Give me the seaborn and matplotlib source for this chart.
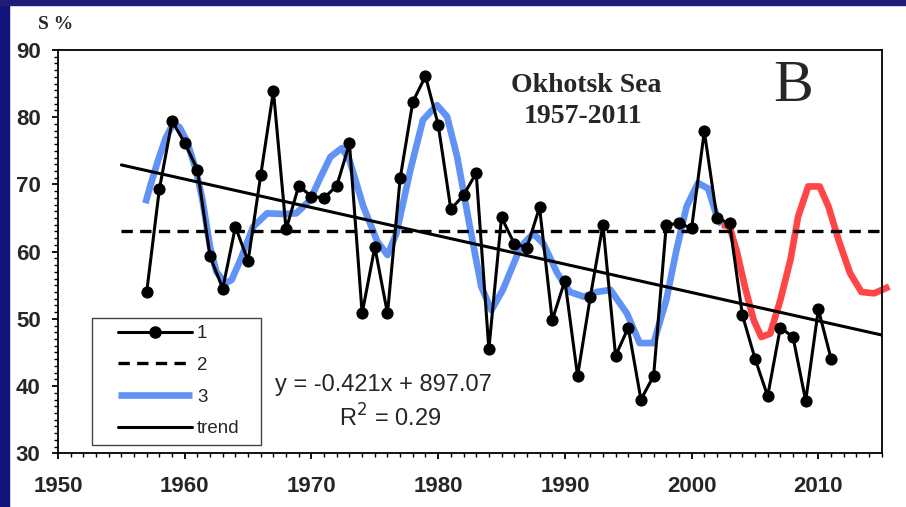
import numpy as np
import pandas as pd
import seaborn as sns
import matplotlib.pyplot as plt
from matplotlib.lines import Line2D
from matplotlib.patches import Rectangle
from matplotlib.ticker import MultipleLocator

# series 1: observed values, 1957-2011
years = list(range(1957, 2012))
values = [54.0, 69.3, 79.4, 76.2, 72.2, 59.3, 54.5, 63.7, 58.6, 71.4,
          83.9, 63.3, 69.8, 68.2, 68.0, 69.8, 76.1, 50.8, 60.7, 50.8,
          70.9, 82.3, 86.1, 78.9, 66.3, 68.4, 71.7, 45.5, 65.1, 61.2,
          60.6, 66.6, 49.8, 55.7, 41.5, 53.2, 64.0, 44.5, 48.7, 38.0,
          41.5, 64.0, 64.2, 63.5, 77.9, 65.0, 64.2, 50.6, 44.1, 38.5,
          48.7, 47.3, 37.8, 51.4, 44.1]

# series 2: mean level
mean_years = [1955, 2015]
mean_vals = [63.0, 63.0]

# series 3: smoothed curve (blue) and its extrapolation (red)
smooth_years = [1956.9, 1957.3, 1957.9, 1958.5, 1959.1, 1959.6, 1960.2, 1960.9,
                1961.4, 1962.0, 1962.5, 1963.2, 1963.7, 1964.4, 1965.4, 1966.5,
                1967.8, 1968.8, 1969.9, 1970.7, 1971.5, 1972.4, 1973.0, 1974.1,
                1975.2, 1976.0, 1976.7, 1977.8, 1978.8, 1979.9, 1980.7, 1981.5,
                1982.5, 1983.4, 1984.2, 1985.1, 1986.5, 1987.5, 1988.3, 1989.4,
                1990.4, 1991.5, 1992.5, 1993.6, 1994.9, 1995.9, 1997.0, 1998.0,
                1998.8, 1999.6, 2000.5, 2001.3, 2002.0, 2002.4]
smooth_vals = [67.2, 69.9, 73.6, 76.9, 79.1, 78.5, 76.3, 72.1,
               67.7, 60.7, 57.0, 55.3, 55.8, 58.8, 63.7, 65.7,
               65.6, 65.7, 67.7, 71.0, 74.1, 75.4, 73.6, 66.7,
               61.5, 59.5, 62.7, 72.1, 79.6, 81.8, 80.1, 74.1,
               63.7, 54.8, 51.3, 54.3, 60.7, 62.7, 61.2, 56.8,
               54.0, 53.3, 54.0, 54.3, 50.8, 46.4, 46.4, 52.8,
               60.2, 66.7, 70.2, 69.4, 65.2, 64.0]
fcst_years = [2002.4, 2003.0, 2003.6, 2004.2, 2004.9, 2005.5, 2006.2, 2007.0,
              2007.8, 2008.4, 2009.2, 2010.1, 2010.8, 2011.6, 2012.5, 2013.4,
              2014.4, 2015.6]
fcst_vals = [64.0, 63.7, 59.8, 54.8, 49.8, 47.3, 47.8, 52.8,
             58.8, 65.2, 69.7, 69.7, 66.7, 61.7, 56.8, 54.0,
             53.8, 54.8]

# linear trend
trend_years = [1955, 2015]
trend_vals = [72.9, 47.6]

obs = pd.DataFrame({'year': years, 'S': values})

sns.set_style('ticks')
plt.rcParams['font.family'] = ['Liberation Sans', 'DejaVu Sans']

blue = '#6192f5'
red = '#ff4545'
dash = (0, (3.4, 2.2))

fig = plt.figure(figsize=(9.06, 5.07), dpi=100)
fig.patch.set_facecolor('white')
fig.patches.append(Rectangle((0, 0), 0.0099, 1, transform=fig.transFigure,
                             color='#12127f', zorder=0))
fig.patches.append(Rectangle((0, 0.99), 1, 0.01, transform=fig.transFigure,
                             color='#1e1e78', zorder=0))

ax = fig.add_axes([0.064, 0.1059, 0.9092, 0.7955])

sns.lineplot(x=smooth_years, y=smooth_vals, ax=ax, color=blue, linewidth=4.8,
             solid_capstyle='butt', zorder=2)
sns.lineplot(x=fcst_years, y=fcst_vals, ax=ax, color=red, linewidth=4.8,
             solid_capstyle='butt', zorder=2)
ax.lines[-1].set_clip_on(False)
sns.lineplot(x=mean_years, y=mean_vals, ax=ax, color='black', linewidth=2.4,
             linestyle=dash, zorder=3)
sns.lineplot(x=trend_years, y=trend_vals, ax=ax, color='black', linewidth=2.2,
             zorder=3)
sns.lineplot(data=obs, x='year', y='S', ax=ax, color='black', linewidth=2.2,
             marker='o', markersize=8, markeredgecolor='black', zorder=4)

ax.set_xlim(1950, 2015)
ax.set_ylim(30, 90)
ax.xaxis.set_major_locator(MultipleLocator(10))
ax.xaxis.set_minor_locator(MultipleLocator(1))
ax.yaxis.set_major_locator(MultipleLocator(10))
ax.yaxis.set_minor_locator(MultipleLocator(1))
ax.tick_params(which='major', length=4.5, width=1.3, color='black',
               labelsize=16)
ax.tick_params(which='minor', length=3.2, width=1.0, color='black')
ax.tick_params(axis='x', which='major', pad=12)
ax.tick_params(axis='y', which='major', pad=8)
for lab in ax.get_xticklabels() + ax.get_yticklabels():
    lab.set_fontweight('bold')
for sp in ax.spines.values():
    sp.set_visible(True)
    sp.set_color('black')
    sp.set_linewidth(1.3)
ax.set_xlabel('')
ax.set_ylabel('')

# legend box drawn separately, entries placed inside it
ax.add_patch(Rectangle((0.041, 0.021), 0.205, 0.315, transform=ax.transAxes,
                       facecolor='white', edgecolor='#444444', linewidth=1.0,
                       zorder=5))
handles = [
    Line2D([], [], color='black', linewidth=2.2, marker='o', markersize=8),
    Line2D([], [], color='black', linewidth=2.4, linestyle=dash),
    Line2D([], [], color=blue, linewidth=4.8, solid_capstyle='butt'),
    Line2D([], [], color='black', linewidth=2.2),
]
leg = ax.legend(handles, ['1', '2', '3', 'trend'], loc='upper left',
                bbox_to_anchor=(0.0728, 0.318), borderaxespad=0, borderpad=0,
                fontsize=13.5, handlelength=3.95, handletextpad=0.27,
                labelspacing=0.78, frameon=False)
leg.set_zorder(6)

ax.text(0.263, 0.169, 'y = -0.421x + 897.07', transform=ax.transAxes,
        fontsize=17, va='center', ha='left')
ax.text(0.403, 0.0875, 'R$^2$ = 0.29', transform=ax.transAxes,
        fontsize=17, va='center', ha='center')

serif = ['Liberation Serif', 'DejaVu Serif']
ax.text(0.641, 0.913, 'Okhotsk Sea', transform=ax.transAxes, family=serif,
        fontsize=20, fontweight='bold', ha='center', va='center')
ax.text(0.637, 0.835, '1957-2011', transform=ax.transAxes, family=serif,
        fontsize=20, fontweight='bold', ha='center', va='center')
ax.text(0.893, 0.908, 'B', transform=ax.transAxes, family=serif,
        fontsize=43, ha='center', va='center')
fig.text(0.061, 0.951, 'S %', family=serif, fontsize=14, fontweight='bold',
         ha='center', va='center')

fig.savefig('out.png', dpi=100)
